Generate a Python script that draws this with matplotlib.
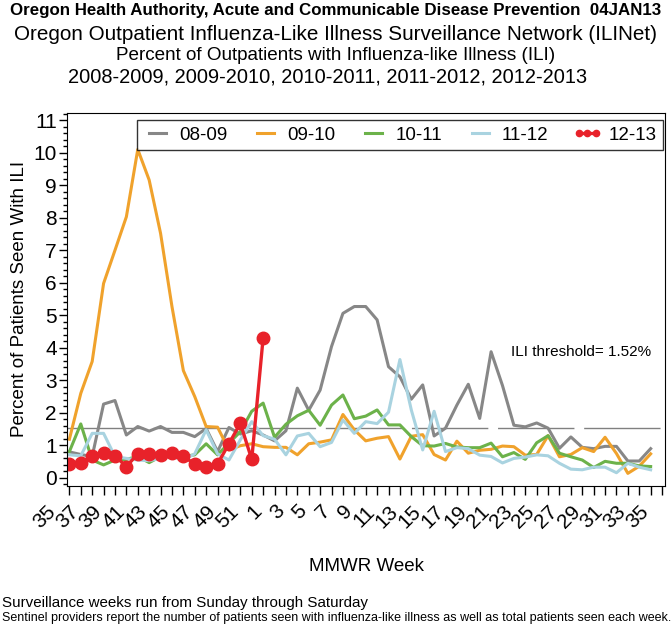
import matplotlib
matplotlib.use("Agg")
import matplotlib.pyplot as plt
from matplotlib.ticker import MultipleLocator
from matplotlib.transforms import ScaledTranslation

plt.rcParams['font.family'] = ['Liberation Sans', 'DejaVu Sans']

# MMWR weeks on the x axis: 35..52 then 1..35
weeks = list(range(35, 53)) + list(range(1, 36))

s0809 = [0.80, 0.72, 0.66, 2.27, 2.38, 1.32, 1.58, 1.44, 1.58, 1.40, 1.40, 1.27, 1.52, 0.81, 1.55, 1.35, 1.45, 1.32,
         1.14, 1.45, 2.76, 2.08, 2.70, 4.04, 5.06, 5.27, 5.27, 4.86, 3.42, 3.11, 2.42, 2.86, 1.29, 1.53, 2.24, 2.88,
         1.83, 3.88, 2.84, 1.62, 1.57, 1.69, 1.53, 0.91, 1.26, 0.94, 0.90, 0.97, 0.97, 0.52, 0.52, 0.90]
s0910 = [1.19, 2.60, 3.58, 5.98, 7.00, 8.03, 10.10, 9.16, 7.52, 5.27, 3.30, 2.50, 1.58, 1.56, 0.86, 0.99, 1.05, 0.96,
         0.94, 0.94, 0.71, 1.05, 1.10, 1.17, 1.95, 1.48, 1.14, 1.22, 1.27, 0.58, 1.28, 1.33, 0.72, 0.55, 1.13, 0.76,
         0.85, 0.88, 0.98, 0.96, 0.70, 0.72, 1.30, 0.65, 0.72, 0.93, 0.81, 1.25, 0.75, 0.14, 0.36, 0.74]
s1011 = [0.81, 1.66, 0.55, 0.40, 0.55, 0.57, 0.66, 0.47, 0.66, 0.74, 0.66, 0.71, 1.05, 0.71, 1.07, 1.42, 2.05, 2.30,
         1.25, 1.65, 1.91, 2.08, 1.62, 2.24, 2.55, 1.82, 1.90, 2.09, 1.63, 1.63, 1.27, 0.99, 0.98, 1.06, 0.95, 0.93,
         0.93, 1.07, 0.65, 0.78, 0.57, 1.08, 1.30, 0.76, 0.65, 0.55, 0.32, 0.51, 0.45, 0.45, 0.37, 0.35]
s1112 = [0.71, 0.68, 1.37, 1.37, 0.66, 0.60, 0.55, 0.53, 0.60, 0.66, 0.55, 0.74, 1.48, 0.74, 0.55, 1.17, 1.73, 1.30,
         1.19, 0.71, 1.29, 1.37, 0.96, 1.09, 1.78, 1.37, 1.73, 1.67, 2.02, 3.64, 2.09, 0.86, 2.05, 0.81, 0.93, 0.90,
         0.70, 0.66, 0.46, 0.60, 0.64, 0.71, 0.68, 0.45, 0.27, 0.25, 0.33, 0.33, 0.16, 0.45, 0.33, 0.25]
s1213 = [0.43, 0.45, 0.68, 0.76, 0.68, 0.35, 0.74, 0.74, 0.70, 0.76, 0.66, 0.43, 0.35, 0.43, 1.05, 1.68, 0.57, 4.31]

threshold = 1.52

fig = plt.figure(figsize=(6.72, 6.24), dpi=100)
ax = fig.add_axes([0.1002, 0.2216, 0.8894, 0.5978])

pos = list(range(len(weeks)))
ax.plot(pos[:len(s0809)], s0809, color='#878787', lw=2.2, label='08-09')
ax.plot(pos[:len(s0910)], s0910, color='#F0A22C', lw=2.2, label='09-10')
ax.plot(pos[:len(s1011)], s1011, color='#6CB24A', lw=2.2, label='10-11')
ax.plot(pos[:len(s1112)], s1112, color='#A9D3E0', lw=2.2, label='11-12')
ax.plot(pos[:len(s1213)], s1213, color='#E8222A', lw=2.4, marker='o', ms=9, label='12-13')

ax.axhline(threshold, color='#808080', lw=1, ls=(0, (55, 7)), zorder=1)
ax.text(51, 3.88, 'ILI threshold= 1.52%', ha='right', va='center', fontsize=11)

ax.set_xlim(-0.18, 52.26)
ax.set_ylim(-0.24, 11.23)
ax.set_xticks(pos)
ax.set_xticklabels([str(w) if i % 2 == 0 else '' for i, w in enumerate(weeks)],
                   rotation=45, ha='right', fontsize=15)
ax.set_yticks(range(0, 12))
ax.yaxis.set_minor_locator(MultipleLocator(0.2))
ax.tick_params(axis='y', labelsize=15, length=5.5, width=1, pad=2)
ax.tick_params(axis='y', which='minor', length=3, width=1)
ax.tick_params(axis='x', length=6.5, width=1)

# nudge the rotated week labels left (after tick_params, which resets transforms)
shift = ScaledTranslation(-6.8 / 72, -1.4 / 72, fig.dpi_scale_trans)
for lab in ax.get_xticklabels():
    lab.set_transform(lab.get_transform() + shift)

ax.set_ylabel('Percent of Patients Seen With ILI', fontsize=13.5, labelpad=4)
ax.set_xlabel('MMWR Week', fontsize=13.5, labelpad=19)

leg = ax.legend(loc='upper right', bbox_to_anchor=(0.997, 0.98), borderaxespad=0, ncol=5,
                fontsize=13.5, frameon=True, fancybox=False, edgecolor='black',
                handlelength=1.5, columnspacing=1.3, handletextpad=0.4, borderpad=0.35,
                numpoints=3, markerscale=0.5)
leg.get_frame().set_linewidth(1)

fig.text(0.5, 1 - 11 / 624, 'Oregon Health Authority, Acute and Communicable Disease Prevention  04JAN13',
         ha='center', va='center', fontsize=12.2, fontweight='bold')
fig.text(0.5, 1 - 35 / 624, 'Oregon Outpatient Influenza-Like Illness Surveillance Network (ILINet)',
         ha='center', va='center', fontsize=14.9)
fig.text(0.5, 1 - 56 / 624, 'Percent of Outpatients with Influenza-like Illness (ILI)',
         ha='center', va='center', fontsize=13.6)
fig.text(328 / 672, 1 - 77 / 624, '2008-2009, 2009-2010, 2010-2011, 2011-2012, 2012-2013',
         ha='center', va='center', fontsize=14.4)

fig.text(0.003, 1 - 603 / 624, 'Surveillance weeks run from Sunday through Saturday',
         ha='left', va='center', fontsize=10.9)
fig.text(0.003, 1 - 618 / 624,
         'Sentinel providers report the number of patients seen with influenza-like illness as well as total patients seen each week.',
         ha='left', va='center', fontsize=9.0)

fig.savefig('out.png', dpi=100)
